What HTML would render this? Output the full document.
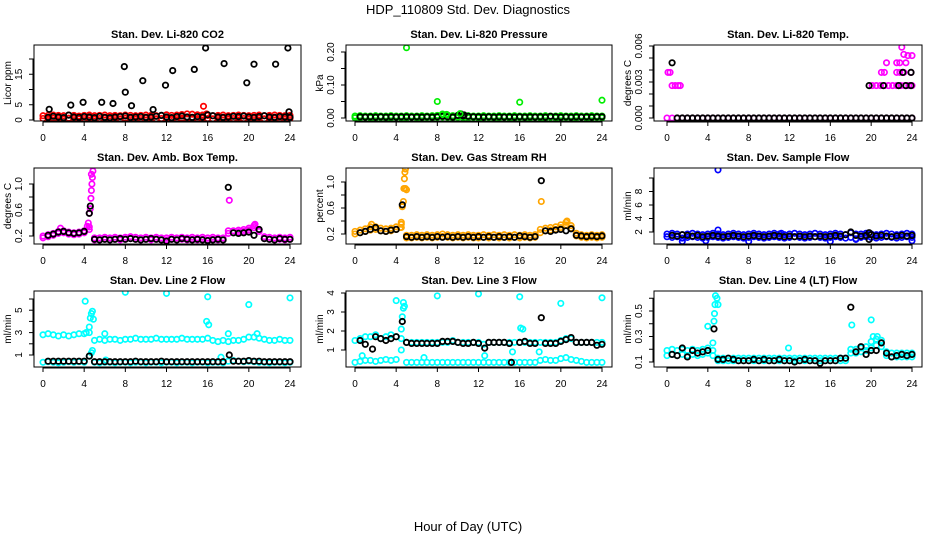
<!DOCTYPE html>
<html><head><meta charset="utf-8">
<style>
html,body{margin:0;padding:0;background:#fff;}
svg{display:block;font-family:"Liberation Sans",Arial,sans-serif;}
</style></head>
<body>
<svg id="chart" width="936" height="540" viewBox="0 0 936 540" xmlns="http://www.w3.org/2000/svg">
<text x="468" y="14" font-size="13" text-anchor="middle">HDP_110809  Std. Dev. Diagnostics</text>
<text x="468" y="531" font-size="13" text-anchor="middle">Hour of Day (UTC)</text>
</svg>
<script>
const H = [0,0.5,1,1.5,2,2.5,3,3.5,4,4.5,5,5.5,6,6.5,7,7.5,8,8.5,9,9.5,10,10.5,11,11.5,12,12.5,13,13.5,14,14.5,15,15.5,16,16.5,17,17.5,18,18.5,19,19.5,20,20.5,21,21.5,22,22.5,23,23.5,24];
const xTicks = [0,4,8,12,16,20,24];

// Panel 1: CO2
const co2RedLo = [0.5,0.4,0.6,0.5,0.4,0.6,0.5,0.4,0.5,0.6,0.4,0.5,0.6,0.4,0.5,0.4,0.6,0.5,0.4,0.5,0.6,0.5,0.4,0.5,0.6,0.4,0.5,0.6,0.5,0.4,0.5,0.6,0.5,0.4,0.5,0.6,0.4,0.5,0.6,0.5,0.4,0.5,0.6,0.4,0.5,0.6,0.5,0.4,0.5];
const co2RedHi = [1.4,1.5,1.6,1.5,1.4,1.6,1.5,1.3,1.5,1.6,1.4,1.5,1.6,1.4,1.5,1.4,1.6,1.5,1.4,1.5,1.6,1.5,1.4,1.5,1.7,1.5,1.6,1.8,2.0,1.9,1.7,1.6,1.5,1.4,1.5,1.6,1.4,1.5,1.6,1.5,1.4,1.5,1.6,1.4,1.5,1.6,1.5,1.4,1.5];
const co2RedOut = [[15.6,4.5],[15.9,2.0]];
const co2Black = [null,0.9,1.2,1.0,0.8,1.6,1.0,0.9,1.1,1.0,0.8,1.2,0.9,0.8,1.0,1.1,1.3,0.9,1.0,1.1,0.9,1.0,1.2,1.5,1.0,0.8,1.1,1.3,1.0,0.9,1.1,1.0,1.7,1.4,1.0,0.9,1.0,1.2,1.1,1.3,1.0,0.9,1.1,1.4,1.0,0.9,1.1,1.0,0.9];
const co2BlackOut = [[0.6,3.5],[2.7,4.9],[3.9,5.8],[5.7,5.8],[6.8,5.4],[7.9,17.5],[8.0,9.1],[8.6,4.7],[9.7,12.9],[10.7,3.4],[11.9,11.4],[12.6,16.2],[14.7,16.6],[15.8,23.6],[17.6,18.5],[19.8,12.2],[20.5,18.3],[22.6,18.3],[23.8,23.6],[23.9,2.7]];

// Panel 2: Pressure
const presGreenLo = [0.001,0.001,0.002,0.001,0.001,0.002,0.001,0.001,0.002,0.001,0.001,0.002,0.001,0.001,0.002,0.001,0.002,0.003,0.002,0.001,0.002,0.001,0.001,0.002,0.001,0.001,0.002,0.001,0.001,0.002,0.001,0.001,0.002,0.001,0.001,0.002,0.001,0.001,0.002,0.001,0.001,0.002,0.001,0.001,0.002,0.001,0.001,0.002,0.001];
const presGreenHi = [0.006,0.007,0.006,0.006,0.007,0.006,0.006,0.007,0.006,0.006,0.007,0.006,0.006,0.007,0.006,0.007,0.008,0.010,0.009,0.007,0.008,0.006,0.007,0.006,0.006,0.007,0.006,0.006,0.007,0.006,0.006,0.007,0.006,0.006,0.007,0.006,0.006,0.007,0.006,0.006,0.007,0.006,0.006,0.007,0.006,0.006,0.007,0.006,0.006];
const presGreenOut = [[5.0,0.213],[8.0,0.05],[16.0,0.048],[24.0,0.054],[8.5,0.012],[8.9,0.011],[10.2,0.013]];
const presBlack = [null,0.004,0.003,0.004,0.003,0.004,0.003,0.004,0.003,0.004,0.004,0.003,0.004,0.003,0.004,0.003,0.004,0.005,0.004,0.003,0.008,0.006,0.005,0.004,0.004,0.003,0.004,0.003,0.004,0.003,0.004,0.003,0.004,0.003,0.004,0.003,0.004,0.003,0.005,0.004,0.003,0.004,0.003,0.004,0.003,0.004,0.003,0.004,0.004];
const presBlackOut = [[10.3,0.012],[10.6,0.009]];

// Panel 3: Temp
const tempMag = [0,0,0,0,0,0,0,0,0,0,0,0,0,0,0,0,0,0,0,0,0,0,0,0,0,0,0,0,0,0,0,0,0,0,0,0,0,0,0,0,0,0,0,0,0,0,0,0,0];
const tempMagOut = [[0.1,0.0038],[0.3,0.0038],[0.5,0.0027],[0.8,0.0027],[1.1,0.0027],[1.3,0.0027],[20.1,0.0027],[20.5,0.0027],[20.9,0.0027],[21.3,0.0027],[21.7,0.0027],[22.1,0.0027],[22.5,0.0027],[22.9,0.0027],[23.3,0.0027],[23.7,0.0027],[24.0,0.0027],[21.0,0.0038],[21.3,0.0038],[22.5,0.0038],[22.8,0.0038],[23.2,0.0038],[23.9,0.0038],[21.5,0.0046],[22.5,0.0046],[22.8,0.0046],[23.4,0.0046],[23.6,0.0052],[24.0,0.0052],[23.2,0.0053],[23.0,0.0059]];
const tempBlack = [null,null,0,0,0,0,0,0,0,0,0,0,0,0,0,0,0,0,0,0,0,0,0,0,0,0,0,0,0,0,0,0,0,0,0,0,0,0,0,0,0,0,0,0,0,0,0,0,0];
const tempBlackOut = [[0.5,0.0046],[19.8,0.0027],[21.2,0.0027],[22.7,0.0027],[23.4,0.0027],[23.9,0.0027],[23.1,0.0038],[23.9,0.0038]];

// Panel 4: Amb box temp
const ambMagLo = [0.17,0.19,0.21,0.24,0.25,0.23,0.22,0.23,0.25,0.30,0.14,0.14,0.15,0.14,0.15,0.14,0.15,0.16,0.15,0.14,0.15,0.14,0.15,0.14,0.14,0.15,0.14,0.15,0.14,0.15,0.14,0.15,0.14,0.15,0.14,0.14,0.24,0.25,0.26,0.27,0.29,0.33,0.27,0.16,0.15,0.14,0.15,0.14,0.15];
const ambMagHi = [0.20,0.22,0.24,0.27,0.28,0.26,0.25,0.26,0.28,0.34,0.17,0.17,0.18,0.17,0.18,0.17,0.18,0.19,0.18,0.17,0.18,0.17,0.18,0.17,0.17,0.18,0.17,0.18,0.17,0.18,0.17,0.18,0.17,0.18,0.17,0.17,0.28,0.28,0.29,0.30,0.32,0.36,0.30,0.19,0.18,0.17,0.18,0.17,0.18];
const ambMagOut = [[4.3,0.35],[4.4,0.4],[4.5,0.55],[4.6,0.62],[4.65,0.78],[4.7,0.9],[4.75,1.0],[4.8,1.1],[4.85,1.2],[4.7,1.15],[18.1,0.75],[1.7,0.32],[20.6,0.38]];
const ambBlack = [null,0.21,0.23,0.26,0.27,0.25,0.24,0.25,0.27,null,0.15,0.14,0.15,0.14,0.15,0.16,0.15,0.16,0.15,0.14,0.15,0.16,0.15,0.14,0.12,0.15,0.14,0.16,0.15,0.14,0.15,0.14,0.13,0.14,0.15,0.14,null,0.25,0.24,0.25,0.26,0.21,0.3,0.16,0.15,0.14,0.16,0.15,0.15];
const ambBlackOut = [[4.6,0.66],[4.5,0.55],[18.0,0.95]];

// Panel 5: Gas stream RH
const rhOrLo = [0.20,0.22,0.24,0.26,0.27,0.25,0.24,0.25,0.27,0.30,0.14,0.14,0.15,0.14,0.15,0.14,0.15,0.16,0.15,0.14,0.15,0.14,0.15,0.14,0.14,0.15,0.14,0.15,0.14,0.15,0.14,0.15,0.14,0.15,0.14,0.15,0.22,0.25,0.26,0.27,0.30,0.34,0.29,0.17,0.15,0.14,0.15,0.14,0.15];
const rhOrHi = [0.24,0.26,0.28,0.31,0.31,0.29,0.28,0.29,0.31,0.35,0.18,0.18,0.19,0.18,0.19,0.18,0.19,0.20,0.19,0.18,0.19,0.18,0.19,0.18,0.18,0.19,0.18,0.19,0.18,0.19,0.18,0.19,0.18,0.19,0.18,0.19,0.27,0.29,0.30,0.31,0.34,0.38,0.33,0.21,0.19,0.18,0.19,0.18,0.19];
const rhOrOut = [[4.4,0.3],[4.5,0.38],[4.6,0.62],[4.7,0.7],[4.75,0.9],[4.8,1.05],[4.85,1.15],[4.9,1.2],[5.0,0.88],[4.9,0.9],[18.1,0.7],[1.6,0.35],[20.6,0.4]];
const rhBlack = [null,0.22,0.24,0.27,0.30,0.25,0.24,0.26,0.27,null,0.16,0.15,0.16,0.15,0.16,0.15,0.16,0.15,0.16,0.15,0.16,0.15,0.16,0.15,0.16,0.15,0.16,0.15,0.16,0.15,0.16,0.15,0.17,0.16,0.15,0.16,null,0.25,0.24,0.26,0.27,0.25,0.28,0.18,0.17,0.16,0.17,0.16,0.17];
const rhBlackOut = [[4.6,0.65],[18.1,1.02]];

// Panel 6: Sample flow
const sfBlueLo = [1.3,1.2,1.3,1.1,1.2,1.3,1.2,1.1,1.2,1.3,1.2,1.1,1.2,1.3,1.2,1.1,1.2,1.3,1.2,1.1,1.2,1.3,1.2,1.1,1.2,1.3,1.2,1.1,1.2,1.3,1.2,1.1,1.2,1.3,1.2,1.1,1.2,1.0,1.2,1.3,1.2,1.1,1.2,1.3,1.2,1.1,1.2,1.3,1.2];
const sfBlueHi = [1.7,1.8,1.7,1.6,1.7,1.8,1.7,1.6,1.7,1.8,1.7,1.6,1.7,1.8,1.7,1.6,1.7,1.8,1.7,1.6,1.7,1.8,1.7,1.6,1.7,1.8,1.7,1.6,1.7,1.8,1.7,1.6,1.7,1.8,1.7,1.6,1.9,1.7,1.7,1.8,1.7,1.6,1.7,1.8,1.7,1.6,1.7,1.8,1.7];
const sfBlueOut = [[5.0,11.2],[5.0,2.3],[1.5,0.6],[3.8,0.7],[8.0,0.6],[16.0,0.6],[18.5,0.9],[24.0,0.7],[11.2,1.8]];
const sfBlack = [null,1.5,1.4,1.6,1.5,1.4,1.5,1.3,1.4,1.5,1.4,1.3,1.4,1.5,1.4,1.3,1.4,1.5,1.4,1.3,1.4,1.5,1.4,1.3,1.4,1.3,1.4,1.3,1.4,1.3,1.4,1.3,1.4,1.5,1.4,1.6,2.0,1.5,1.4,1.5,1.6,1.4,1.5,1.4,1.3,1.4,1.5,1.4,1.5];
const sfBlackOut = [[19.8,1.9],[19.8,0.9]];

// Panel 7: Line 2 flow
const l2CyanUp = [2.8,2.9,2.8,2.7,2.8,2.7,2.8,2.9,2.9,3.0,2.3,2.4,2.3,2.4,2.4,2.3,2.4,2.4,2.5,2.4,2.4,2.4,2.5,2.4,2.4,2.4,2.4,2.5,2.4,2.4,2.4,2.4,2.5,2.3,2.2,2.3,2.2,2.3,2.3,2.4,2.6,2.6,2.5,2.4,2.3,2.3,2.4,2.3,2.3];
const l2CyanLo = [0.35,0.4,0.35,0.3,0.35,0.4,0.35,0.4,0.35,0.9,0.35,0.3,0.35,0.35,0.3,0.35,0.35,0.3,0.35,0.35,0.3,0.35,0.35,0.3,0.35,0.35,0.3,0.35,0.35,0.3,0.35,0.35,0.3,0.35,0.35,0.3,0.45,0.5,0.45,0.4,0.45,0.4,0.35,0.35,0.3,0.35,0.35,0.3,0.35];
const l2CyanOut = [[4.1,5.8],[8.0,6.6],[12.0,6.5],[16.0,6.2],[20.0,5.5],[24.0,6.1],[15.9,4.0],[16.1,3.7],[6.0,2.9],[18.0,2.9],[17.3,0.8],[4.5,3.5],[4.6,4.3],[4.7,4.7],[4.8,4.9],[4.9,4.2],[4.7,1.2],[4.8,1.4],[4.2,3.0],[20.8,2.9],[6.1,0.55]];
const l2Black = [null,0.45,0.45,0.45,0.45,0.45,0.45,0.45,0.45,null,0.4,0.4,0.4,0.4,0.4,0.4,0.4,0.4,0.45,0.4,0.4,0.4,0.4,0.45,0.4,0.4,0.4,0.4,0.4,0.4,0.4,0.4,0.4,0.4,0.4,0.4,null,0.45,0.45,0.45,0.5,0.45,0.45,0.4,0.4,0.4,0.4,0.4,0.4];
const l2BlackOut = [[18.1,1.0],[4.5,0.9]];

// Panel 8: Line 3 flow
const l3CyanUp = [1.5,1.6,1.7,1.7,1.8,1.6,1.7,1.8,1.7,1.6,1.4,1.4,1.4,1.4,1.4,1.4,1.4,1.4,1.4,1.5,1.4,1.4,1.4,1.4,1.4,1.3,1.4,1.4,1.4,1.4,1.4,1.4,1.4,1.4,1.4,1.4,1.4,1.4,1.4,1.4,1.5,1.6,1.6,1.4,1.4,1.4,1.4,1.4,1.4];
const l3CyanLo = [0.35,0.4,0.45,0.45,0.4,0.45,0.5,0.45,0.5,1.0,0.35,0.35,0.35,0.35,0.35,0.35,0.35,0.35,0.35,0.35,0.35,0.35,0.35,0.35,0.35,0.35,0.35,0.35,0.35,0.35,0.35,0.35,0.35,0.35,0.35,0.35,0.45,0.5,0.45,0.45,0.55,0.6,0.5,0.45,0.4,0.35,0.35,0.35,0.35];
const l3CyanOut = [[4.0,3.6],[4.7,3.5],[4.8,3.3],[4.7,3.2],[4.6,2.75],[4.5,2.1],[8.0,3.85],[12.0,3.95],[16.0,3.8],[16.1,2.15],[16.3,2.1],[20.0,3.45],[24.0,3.75],[17.9,0.9],[6.7,0.6],[0.7,0.7],[12.6,0.7],[15.3,0.9]];
const l3Black = [null,1.5,1.3,null,1.7,1.6,1.5,1.6,1.7,null,1.4,1.35,1.35,1.35,1.35,1.35,1.35,1.45,1.45,1.45,1.4,1.35,1.35,1.4,1.35,null,1.4,1.4,1.4,1.4,1.35,null,1.4,1.45,1.35,1.35,null,1.35,1.35,1.35,1.45,1.55,1.65,1.4,1.4,1.4,1.4,1.25,1.3];
const l3BlackOut = [[18.1,2.7],[4.6,2.5],[15.2,0.35],[1.7,1.05],[12.6,1.1]];

// Panel 9: Line 4 (LT) flow
const l4CyanLo = [0.15,0.16,0.15,0.16,0.15,0.16,0.15,0.16,0.17,0.15,0.11,0.11,0.11,0.11,0.11,0.11,0.11,0.11,0.11,0.11,0.11,0.11,0.11,0.11,0.11,0.11,0.11,0.11,0.11,0.11,0.11,0.11,0.11,0.11,0.11,0.11,0.17,0.17,0.18,0.19,0.21,0.23,0.22,0.15,0.14,0.14,0.14,0.14,0.14];
const l4CyanHi = [0.19,0.20,0.19,0.20,0.19,0.20,0.19,0.20,0.21,0.19,0.13,0.13,0.13,0.13,0.13,0.13,0.13,0.13,0.13,0.13,0.13,0.13,0.13,0.13,0.13,0.13,0.13,0.13,0.13,0.13,0.13,0.13,0.13,0.13,0.13,0.13,0.20,0.20,0.21,0.22,0.26,0.28,0.27,0.18,0.17,0.17,0.17,0.17,0.17];
const l4CyanOut = [[4.0,0.38],[4.5,0.25],[4.6,0.42],[4.65,0.48],[4.7,0.55],[4.75,0.62],[4.8,0.68],[4.9,0.6],[5.0,0.55],[18.1,0.39],[20.0,0.43],[11.9,0.21],[20.2,0.3],[20.6,0.3]];
const l4Black = [null,0.16,0.15,0.21,0.14,0.19,0.17,0.18,0.19,null,0.12,0.12,0.13,0.12,0.11,0.11,0.11,0.12,0.11,0.12,0.11,0.11,0.12,0.11,0.11,0.10,0.11,0.12,0.11,0.11,0.09,0.11,0.11,0.11,0.13,0.13,null,0.18,0.22,0.16,0.19,0.19,0.25,0.17,0.14,0.15,0.16,0.15,0.16];
const l4BlackOut = [[18.0,0.53],[4.6,0.36]];

const panels = [
 {name:'co2',title:'Stan. Dev. Li-820 CO2',ylab:'Licor ppm',box:[34,45,301,121],xa:[43,290],v0:0,p0:120,k:3.05,yt:[0,5,10,15,20],yl:['0','5','','15',''],
  series:[['#ff0000',H,co2RedLo],['#ff0000',H,co2RedHi],['#ff0000',null,co2RedOut],['#000',H,co2Black],['#000',null,co2BlackOut]]},
 {name:'pressure',title:'Stan. Dev. Li-820 Pressure',ylab:'kPa',box:[346,45,612,121],xa:[355,602],v0:0,p0:118,k:330,yt:[0,0.05,0.1,0.15,0.2],yl:['0.00','','0.10','','0.20'],
  series:[['#00ee00',H,presGreenLo],['#00ee00',H,presGreenHi],['#000',H,presBlack],['#000',null,presBlackOut],['#00ee00',null,presGreenOut]]},
 {name:'temp',title:'Stan. Dev. Li-820 Temp.',ylab:'degrees C',box:[654,45,922,121],xa:[667,912],v0:0,p0:118,k:12000,yt:[0,0.001,0.002,0.003,0.004,0.005,0.006],yl:['0.000','','','0.003','','','0.006'],
  series:[['#ff00ff',H,tempMag],['#ff00ff',null,tempMagOut],['#000',H,tempBlack],['#000',null,tempBlackOut]]},
 {name:'amb-box-temp',title:'Stan. Dev. Amb. Box Temp.',ylab:'degrees C',box:[34,168,301,244],xa:[43,290],v0:0.2,p0:236,k:65,yt:[0.2,0.4,0.6,0.8,1.0],yl:['0.2','','0.6','','1.0'],
  series:[['#ff00ff',H,ambMagLo],['#ff00ff',H,ambMagHi],['#ff00ff',null,ambMagOut],['#000',H,ambBlack],['#000',null,ambBlackOut]]},
 {name:'gas-stream-rh',title:'Stan. Dev. Gas Stream RH',ylab:'percent',box:[346,168,612,244],xa:[355,602],v0:0.2,p0:234,k:65,yt:[0.2,0.4,0.6,0.8,1.0],yl:['0.2','','0.6','','1.0'],
  series:[['#ffa500',H,rhOrLo],['#ffa500',H,rhOrHi],['#ffa500',null,rhOrOut],['#000',H,rhBlack],['#000',null,rhBlackOut]]},
 {name:'sample-flow',title:'Stan. Dev. Sample Flow',ylab:'ml/min',box:[654,168,922,244],xa:[667,912],v0:2,p0:232,k:6.75,yt:[2,4,6,8,10],yl:['2','4','6','8',''],
  series:[['#0000ff',H,sfBlueLo],['#0000ff',H,sfBlueHi],['#0000ff',null,sfBlueOut],['#000',H,sfBlack],['#000',null,sfBlackOut]]},
 {name:'line2-flow',title:'Stan. Dev. Line 2 Flow',ylab:'ml/min',box:[34,291,301,367],xa:[43,290],v0:1,p0:355,k:11.2,yt:[1,2,3,4,5,6],yl:['1','','3','','5',''],
  series:[['#00ffff',H,l2CyanUp],['#00ffff',H,l2CyanLo],['#00ffff',null,l2CyanOut],['#000',H,l2Black],['#000',null,l2BlackOut]]},
 {name:'line3-flow',title:'Stan. Dev. Line 3 Flow',ylab:'ml/min',box:[346,291,612,367],xa:[355,602],v0:1,p0:350,k:19,yt:[1,2,3,4],yl:['1','2','3','4'],
  series:[['#00ffff',H,l3CyanUp],['#00ffff',H,l3CyanLo],['#00ffff',null,l3CyanOut],['#000',H,l3Black],['#000',null,l3BlackOut]]},
 {name:'line4-flow',title:'Stan. Dev. Line 4 (LT) Flow',ylab:'ml/min',box:[654,291,922,367],xa:[667,912],v0:0.1,p0:362,k:127.5,yt:[0.1,0.2,0.3,0.4,0.5,0.6],yl:['0.1','','0.3','','0.5',''],
  series:[['#00ffff',H,l4CyanLo],['#00ffff',H,l4CyanHi],['#00ffff',null,l4CyanOut],['#000',H,l4Black],['#000',null,l4BlackOut]]}
];

const NS='http://www.w3.org/2000/svg';
const svg=document.getElementById('chart');
function mk(tag,attrs,parent){const e=document.createElementNS(NS,tag);for(const k in attrs)e.setAttribute(k,attrs[k]);parent.appendChild(e);return e;}

panels.forEach(p=>{
  const g=mk('g',{},svg);
  
  
  const [x0,y0,x1,y1]=p.box;
  const xs=h=>p.xa[0]+(p.xa[1]-p.xa[0])*h/24;
  const ys=v=>p.p0-(v-p.v0)*p.k;
  const cid='clip-'+p.name;
  const cp=mk('clipPath',{id:cid},g);
  mk('rect',{x:x0,y:y0,width:x1-x0,height:y1-y0},cp);
  const pts=mk('g',{'clip-path':'url(#'+cid+')'},g);
  
  
  p.series.forEach(s=>{
    const [col,xsArr,vals]=s;
    const isBlack = col==='#000';
    vals.forEach((v,i)=>{
      let h,val;
      if(xsArr){h=xsArr[i];val=v;}else{h=v[0];val=v[1];}
      if(val===null||val===undefined)return;
      const c=mk('circle',{cx:xs(h).toFixed(1),cy:ys(val).toFixed(1),r:2.7,fill:'none',stroke:col,'stroke-width':isBlack?1.8:1.7},pts);
      
      
    });
  });
  const box=mk('rect',{x:x0,y:y0,width:x1-x0,height:y1-y0,fill:'none',stroke:'#000','stroke-width':1},g);
  
  
  const t=mk('text',{x:(x0+x1)/2,y:y0-7,'font-size':11,'font-weight':'bold','text-anchor':'middle'},g);
  t.textContent=p.title;
  
  
  const xg=mk('g',{},g);
  
  
  mk('line',{x1:xs(0),x2:xs(24),y1:y1+1,y2:y1+1,stroke:'#000'},xg);
  xTicks.forEach(h=>{
    mk('line',{x1:xs(h),x2:xs(h),y1:y1,y2:y1+5,stroke:'#000'},xg);
    const l=mk('text',{x:xs(h),y:y1+20,'font-size':10,'text-anchor':'middle'},xg);
    l.textContent=String(h);
    
    
  });
  const yg=mk('g',{},g);
  
  
  mk('line',{x1:x0-1,x2:x0-1,y1:ys(p.yt[0]),y2:ys(p.yt[p.yt.length-1]),stroke:'#000'},yg);
  p.yt.forEach((v,i)=>{
    const y=ys(v);
    mk('line',{x1:x0-5,x2:x0,y1:y,y2:y,stroke:'#000'},yg);
    if(p.yl[i]){
      const l=mk('text',{x:0,y:0,'font-size':10,'text-anchor':'middle',transform:'translate('+(x0-12)+','+y+') rotate(-90)'},yg);
      l.textContent=p.yl[i];
      
      
    }
  });
  const yt=mk('text',{x:0,y:0,'font-size':10,'text-anchor':'middle',transform:'translate('+(x0-23)+','+((y0+y1)/2)+') rotate(-90)'},yg);
  yt.textContent=p.ylab;
  
  
});
</script>
</body></html>
